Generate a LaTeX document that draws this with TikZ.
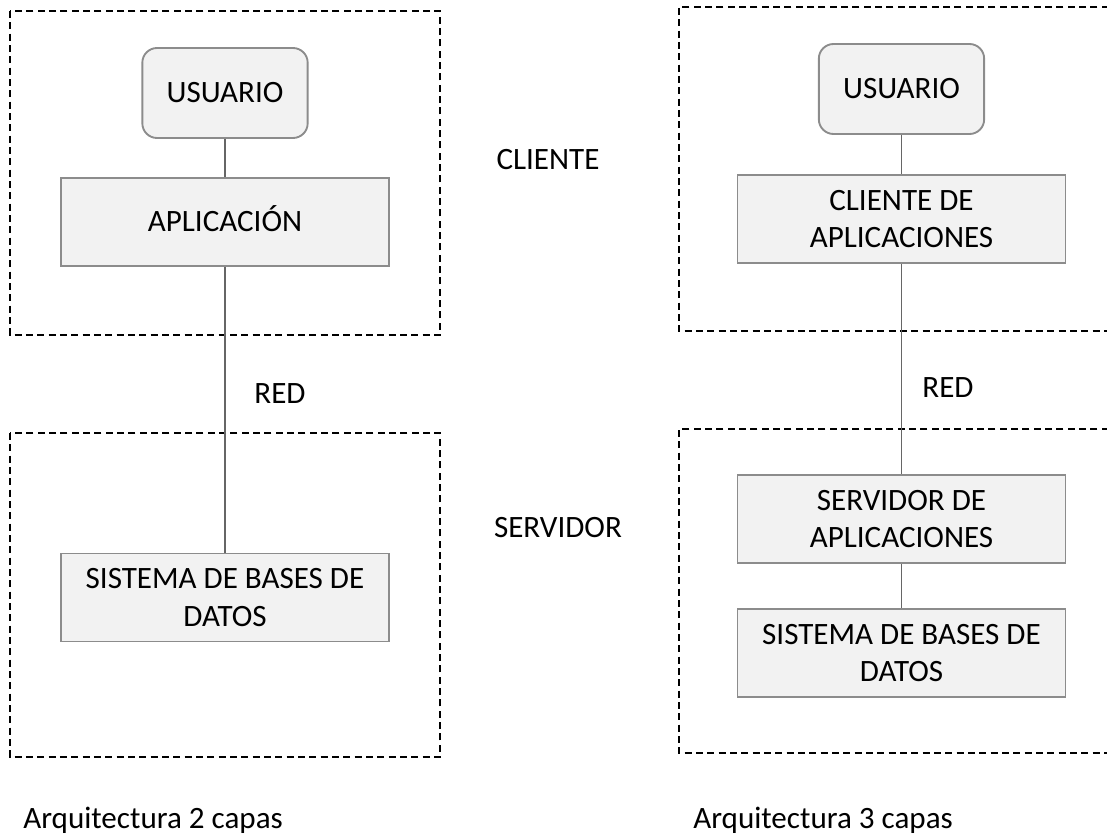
\documentclass[tikz,border=0pt]{standalone}
\usepackage{fontspec}
\setmainfont{Carlito}
\usepackage{tikz}
\usetikzlibrary{calc}

\tikzset{
	caja/.style={draw=black!45,line width=1.4pt,fill=black!5,minimum width=246pt,minimum height=66pt,inner sep=0pt,align=center},
	usuario/.style={draw=black!45,line width=1.4pt,fill=black!5,rounded corners=11pt,minimum width=124pt,minimum height=67.5pt,inner sep=0pt},
	una/.style={text height=14.7pt,text depth=0pt},
	marco/.style={draw=black,line width=1.3pt,dash pattern=on 5.2pt off 3.3pt},
	enlace/.style={draw=black!60,line width=1.1pt}
}

\begin{document}
\begin{tikzpicture}[x=0.75pt,y=-0.75pt,font=\fontsize{23.3}{28}\selectfont]
		\useasboundingbox (0,0) rectangle (1107,835);
		
		\draw[marco] (10,11) rectangle (440,335);
		\draw[marco] (10,433) rectangle (440,757);
		\draw[marco] (1120,7) -- (679,7) -- (679,331) -- (1120,331);
		\draw[marco] (1120,429) -- (679,429) -- (679,753) -- (1120,753);
		
		\node[usuario,una](U1) at (225,93) {USUARIO};
		\node[caja,una](A1) at (225,222) {APLICACIÓN};
		\node[caja](S1) at (225,597.5) {SISTEMA DE BASES DE\\DATOS};
		
		\node[usuario,una](U2) at (901.5,89) {USUARIO};
		\node[caja](C2) at (901.5,219) {CLIENTE DE\\APLICACIONES};
		\node[caja](V2) at (901.5,519) {SERVIDOR DE\\APLICACIONES};
		\node[caja](S2) at (901.5,653) {SISTEMA DE BASES DE\\DATOS};
		
		\draw[enlace] (U1)--(A1);
		\draw[enlace] (A1)--(S1);
		\draw[enlace] (U2)--(C2);
		\draw[enlace] (C2)--(V2);
		\draw[enlace] (V2)--(S2);
		
		\node[una](cliente) at (548,160) {CLIENTE};
		\node[una](servidor) at (558,528) {SERVIDOR};
		\node[una](red1) at (280,394) {RED};
		\node[una](red2) at (948,388) {RED};
		
		\node[anchor=base west,inner sep=0pt](t1) at (23,828) {Arquitectura 2 capas};
		\node[anchor=base west,inner sep=0pt](t2) at (693,828) {Arquitectura 3 capas};
	\end{tikzpicture}
\end{document}
